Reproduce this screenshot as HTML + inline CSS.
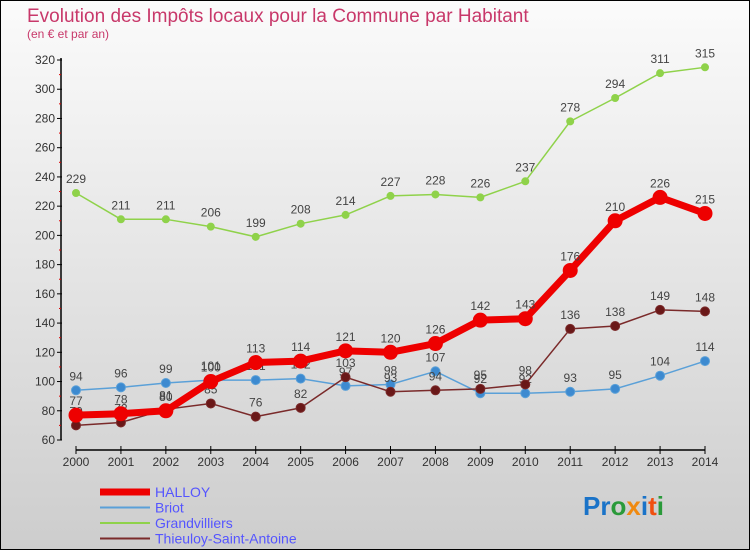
<!DOCTYPE html>
<html><head><meta charset="utf-8"><style>
html,body{margin:0;padding:0}
body{width:750px;height:550px;overflow:hidden;font-family:"Liberation Sans",sans-serif}
svg text{font-family:"Liberation Sans",sans-serif}
</style></head><body>
<svg width="750" height="550">
<defs><linearGradient id="bg" x1="0" y1="0" x2="0" y2="1"><stop offset="0" stop-color="#fbfbfb"/><stop offset="1" stop-color="#cdcdcd"/></linearGradient></defs>
<rect x="0.5" y="0.5" width="749" height="549" fill="url(#bg)" stroke="#000"/>
<text x="27" y="22" font-size="19" fill="#c8386a">Evolution des Impôts locaux pour la Commune par Habitant</text>
<text x="27" y="38" font-size="12" fill="#c8386a">(en € et par an)</text>
<g id="axes"></g><g id="series"></g><g id="legend"></g>
<text x="583" y="515" font-size="26" font-weight="bold"><tspan fill="#1a73c8">Pr</tspan><tspan fill="#2a9a3a">o</tspan><tspan fill="#f08a10">x</tspan><tspan fill="#1a73c8">i</tspan><tspan fill="#f05010">t</tspan><tspan fill="#2a9a3a">i</tspan></text>
</svg>
<script>
const years=[2000,2001,2002,2003,2004,2005,2006,2007,2008,2009,2010,2011,2012,2013,2014];
const yTicks=[60,80,100,120,140,160,180,200,220,240,260,280,300,320];
const halloy=[77,78,80,100,113,114,121,120,126,142,143,176,210,226,215];
const briot=[94,96,99,101,101,102,97,98,107,92,92,93,95,104,114];
const grand=[229,211,211,206,199,208,214,227,228,226,237,278,294,311,315];
const thieu=[70,72,81,85,76,82,103,93,94,95,98,136,138,149,148];
const NS="http://www.w3.org/2000/svg";
const X=i=>76+(705-76)*i/(years.length-1);
const Y=v=>440-(v-60)*(380/260);
function mk(t,a,p){const e=document.createElementNS(NS,t);for(const k in a)e.setAttribute(k,a[k]);p.appendChild(e);return e;}
const ax=document.getElementById('axes');
let l=mk('line',{x1:61,y1:58,x2:61,y2:440,stroke:'#000','stroke-width':1.5},ax);


l=mk('line',{x1:76,y1:450,x2:705,y2:450,stroke:'#000','stroke-width':1.5},ax);


yTicks.forEach(v=>{
 mk('line',{x1:57,x2:62,y1:Y(v),y2:Y(v),stroke:'#000'},ax);
 if(v<320) mk('line',{x1:59,x2:61,y1:Y(v+10),y2:Y(v+10),stroke:'#d00'},ax);
 const t=mk('text',{x:55,y:Y(v)+4,'font-size':12,'text-anchor':'end',fill:'#333'},ax);t.textContent=v;
 
 
});
years.forEach((yr,i)=>{
 mk('line',{x1:X(i),x2:X(i),y1:446,y2:454,stroke:'#000'},ax);
 const t=mk('text',{x:X(i),y:466,'font-size':12,'text-anchor':'middle',fill:'#333'},ax);t.textContent=yr;
 
 
});
const sg=document.getElementById('series');
function series(d,color,w,r,name,dot){
 const g=mk('g',{},sg);
 
 
 const p=mk('polyline',{points:d.map((v,i)=>X(i)+','+Y(v)).join(' '),fill:'none',stroke:color,'stroke-width':w,'stroke-linejoin':'round'},g);
 
 
 d.forEach((v,i)=>{
  const c=mk('circle',{cx:X(i),cy:Y(v),r:r,fill:dot,stroke:color,'stroke-width':1},g);
  
  
  const t=mk('text',{x:X(i),y:Y(v)-10,'font-size':12,'text-anchor':'middle',fill:'#444'},g);t.textContent=v;
  
  
 });
}
series(grand,'#8fd24a',1.5,3.5,'grandvilliers','#8fd24a');
series(briot,'#5aa0d8',1.5,4.5,'briot','#3d8ad0');
series(thieu,'#7a2a2a',1.5,4.5,'thieuloy','#6a1818');
series(halloy,'#ee0000',7,7,'halloy','#ee0000');
const lg=document.getElementById('legend');
[['HALLOY','#ee0000',7],['Briot','#5aa0d8',2],['Grandvilliers','#8fd24a',2],['Thieuloy-Saint-Antoine','#7a2a2a',2]].forEach((e,i)=>{
 const y=492+i*15.5;
 const g=mk('g',{},lg);
 
 
 mk('line',{x1:100,x2:150,y1:y,y2:y,stroke:e[1],'stroke-width':e[2]},g);
 const t=mk('text',{x:155,y:y+5,'font-size':14,fill:'#5555ff'},g);t.textContent=e[0];
});
</script>
</body></html>
